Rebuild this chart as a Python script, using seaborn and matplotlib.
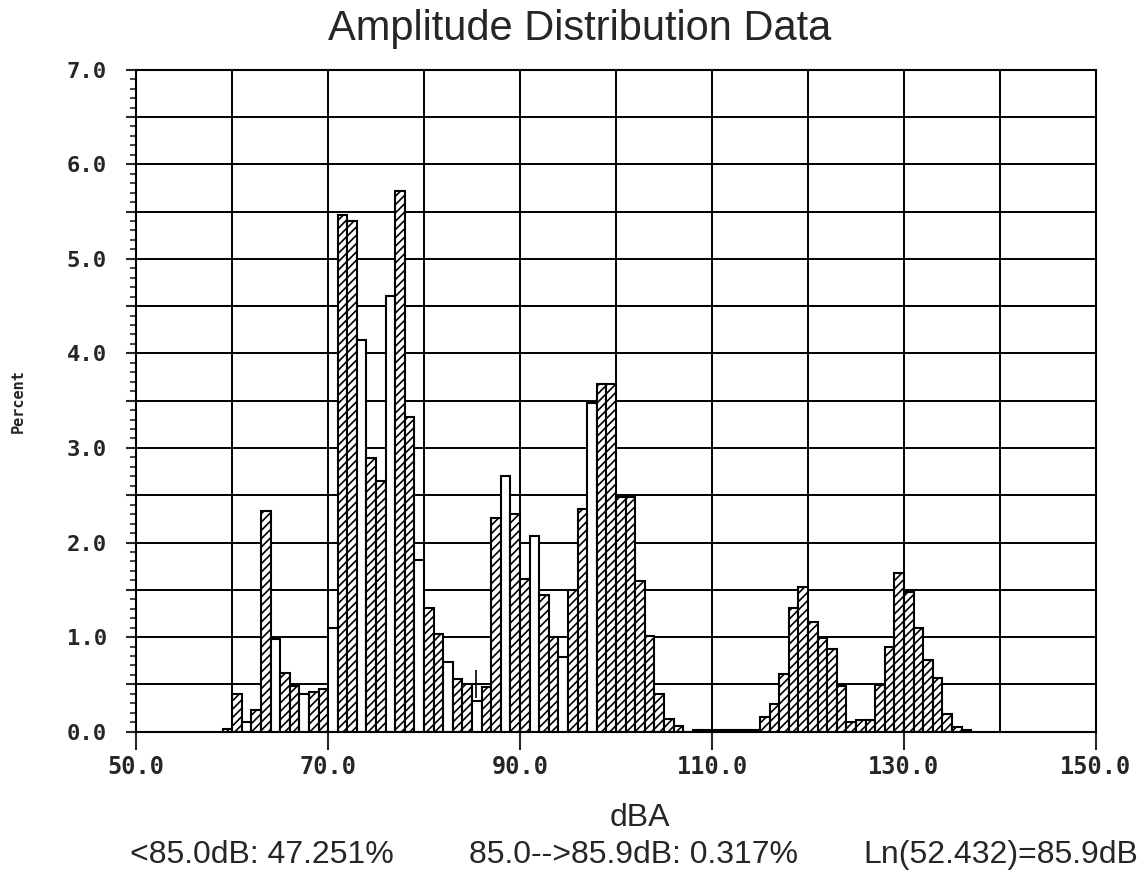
import numpy as np
import pandas as pd
import seaborn as sns
import matplotlib.pyplot as plt
from matplotlib.ticker import MultipleLocator, FixedLocator, FuncFormatter

# --- data (1 dB bins, percent of time) ---
db_bins = list(range(59, 137))
percent = [
    0.03, 0.40, 0.10, 0.23, 2.33, 0.98, 0.62, 0.48, 0.40, 0.42,   # 59-68
    0.45, 1.10, 5.46, 5.40, 4.14, 2.89, 2.65, 4.61, 5.72, 3.33,   # 69-78
    1.82, 1.31, 1.03, 0.74, 0.56, 0.50, 0.32, 0.47, 2.26, 2.70,   # 79-88
    2.30, 1.61, 2.07, 1.44, 1.00, 0.79, 1.50, 2.35, 3.47, 3.68,   # 89-98
    3.68, 2.48, 2.48, 1.59, 1.01, 0.40, 0.13, 0.06, 0.00, 0.02,   # 99-108
    0.02, 0.02, 0.02, 0.02, 0.02, 0.02, 0.15, 0.29, 0.61, 1.31,   # 109-118
    1.53, 1.16, 0.99, 0.87, 0.48, 0.10, 0.12, 0.12, 0.49, 0.89,   # 119-128
    1.68, 1.48, 1.10, 0.76, 0.57, 0.19, 0.05, 0.02,               # 129-136
]
# bins the old plotter left unhatched
plain_bins = [61, 64, 67, 70, 73, 76, 79, 82, 85, 88, 91, 94, 97]

ln_mark_db = [85.4]
ln_mark_pct = [0.50]

x_labels = [50, 70, 90, 110, 130, 150]
x_grid = [60, 80, 100, 120, 140]

below_txt = "<85.0dB: 47.251%"
range_txt = "85.0-->85.9dB: 0.317%"
ln_txt = "Ln(52.432)=85.9dB"

df = pd.DataFrame({"dBA": db_bins, "pct": percent})

sns.set_style("white")
plt.rcParams['font.family'] = ['Liberation Sans', 'DejaVu Sans']
plt.rcParams['hatch.linewidth'] = 1.2

fig = plt.figure(figsize=(11.44, 8.71), dpi=100)
ax = fig.add_axes([0.119, 0.160, 0.839, 0.760])

sns.histplot(data=df, x="dBA", weights="pct", binwidth=1, binrange=(59, 137), ax=ax,
             color="white", edgecolor="black", linewidth=1.5, alpha=1)

for patch in ax.patches:
    left = int(round(patch.get_x()))
    patch.set_facecolor("white")
    if left not in plain_bins:
        patch.set_hatch("////")

ax.plot(ln_mark_db, ln_mark_pct, marker="+", color="black",
        markersize=20, markeredgewidth=1.2, linestyle="none")

ax.set_xlim(50, 150)
ax.set_ylim(0, 7)
ax.set_axisbelow(True)

# x: labels every 20 starting at 50, grid every 10
ax.xaxis.set_major_locator(FixedLocator(x_labels))
ax.xaxis.set_minor_locator(FixedLocator(x_grid))
ax.xaxis.set_major_formatter(FuncFormatter(lambda v, p: f"{v:.1f}"))
ax.tick_params(axis="x", which="major", length=13, width=1.5, direction="out",
               pad=4, labelsize=17, bottom=True)
ax.tick_params(axis="x", which="minor", length=0)

# y: labels every 1, grid every 0.5, small ticks every 0.1
ax.yaxis.set_major_locator(MultipleLocator(0.5))
ax.yaxis.set_minor_locator(MultipleLocator(0.1))
ax.yaxis.set_major_formatter(
    FuncFormatter(lambda v, p: f"{v:.1f}" if abs(v - round(v)) < 1e-6 else ""))
ax.tick_params(axis="y", which="major", length=7, width=1.5, direction="out",
               pad=14, labelsize=16, left=True)
ax.tick_params(axis="y", which="minor", length=4, width=1.2, direction="out", left=True)

for lab in ax.get_xticklabels() + ax.get_yticklabels():
    lab.set_family("DejaVu Sans Mono")
    lab.set_fontweight("bold")

ax.grid(True, which="both", axis="x", color="black", linewidth=1.4)
ax.grid(True, which="major", axis="y", color="black", linewidth=1.4)
ax.grid(False, which="minor", axis="y")

for sp in ax.spines.values():
    sp.set_color("black")
    sp.set_linewidth(1.5)

ax.set_xlabel("")
ax.set_ylabel("")
fig.text(0.016, 0.54, "Percent", rotation=90, ha="center", va="center",
         family="DejaVu Sans Mono", fontweight="bold", fontsize=11)

fig.text(0.507, 0.967, "Amplitude Distribution Data", ha="center", va="center",
         fontsize=30)
fig.text(0.559, 0.061, "dBA", ha="center", va="center", fontsize=23)
fig.text(0.114, 0.018, below_txt, ha="left", va="center", fontsize=23)
fig.text(0.554, 0.018, range_txt, ha="center", va="center", fontsize=23)
fig.text(0.995, 0.018, ln_txt, ha="right", va="center", fontsize=23)

fig.savefig("out.png", dpi=100, facecolor="white")
